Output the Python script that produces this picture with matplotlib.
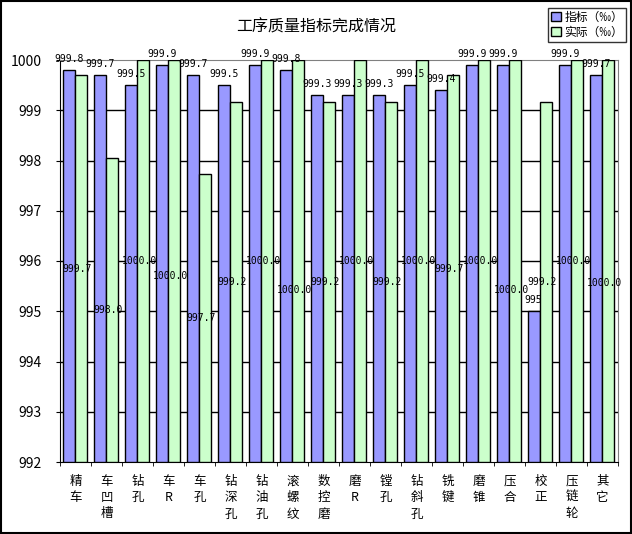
import numpy as np
import matplotlib
matplotlib.use("Agg")
import matplotlib.pyplot as plt
from matplotlib.patches import Rectangle, Patch

plt.rcParams['font.family'] = ['Noto Sans CJK SC', 'DejaVu Sans']

# data
categories = ['精车', '车凹槽', '钻孔', '车R', '车孔', '钻深孔', '钻油孔', '滚螺纹', '数控磨',
              '磨R', '镗孔', '钻斜孔', '铣键', '磨锥', '压合', '校正', '压链轮', '其它']
target = [999.8, 999.7, 999.5, 999.9, 999.7, 999.5, 999.9, 999.8, 999.3,
          999.3, 999.3, 999.5, 999.4, 999.9, 999.9, 995.0, 999.9, 999.7]
actual = [999.7, 998.04, 1000.0, 1000.0, 997.73, 999.16, 1000.0, 1000.0, 999.16,
          1000.0, 999.16, 1000.0, 999.7, 1000.0, 1000.0, 999.16, 1000.0, 1000.0]
target_labels = ['999.8', '999.7', '999.5', '999.9', '999.7', '999.5', '999.9', '999.8', '999.3',
                 '999.3', '999.3', '999.5', '999.4', '999.9', '999.9', '995', '999.9', '999.7']
series_names = ['指标（‰）', '实际（‰）']

blue = '#9999FF'
green = '#CCFFCC'
ymin, ymax = 992, 1000

# label nudges (points, downward) where the chart moved overlapping labels
nudge = {3: 11, 7: 21, 14: 21, 17: 16}

fig = plt.figure(figsize=(6.32, 5.34), dpi=100)
ax = fig.add_axes([60 / 632, 1 - 462 / 534, 558 / 632, 402 / 534])

x = np.arange(len(categories))
w = 0.385
shift = -0.03
ax.bar(x - w / 2 + shift, np.array(target) - ymin, w, bottom=ymin, color=blue,
       edgecolor='black', linewidth=1, zorder=3)
ax.bar(x + w / 2 + shift, np.array(actual) - ymin, w, bottom=ymin, color=green,
       edgecolor='black', linewidth=1, zorder=3)

mono = 'DejaVu Sans Mono'
for i in range(len(categories)):
    ax.annotate(target_labels[i], (x[i] - w / 2 + shift, target[i]), xytext=(0, 4.5),
                textcoords='offset points', ha='center', va='bottom',
                fontsize=7, family=mono, zorder=5, annotation_clip=False)
    mid = (ymin + actual[i]) / 2
    ax.annotate(f'{actual[i]:.1f}', (x[i] + 0.05, mid), xytext=(0, -nudge.get(i, 0)),
                textcoords='offset points', ha='center', va='center',
                fontsize=7, family=mono, zorder=5)

ax.set_xlim(-0.5, len(categories) - 0.5)
ax.set_ylim(ymin, ymax)
ax.set_yticks(range(ymin, ymax + 1))
ax.tick_params(axis='y', direction='out', length=3, pad=10, labelsize=10)
ax.set_xticks(x)
ax.set_xticklabels(['\n'.join(c) for c in categories], fontsize=9, linespacing=1.35, va='top')
ax.tick_params(axis='x', length=0, pad=9)
ax.set_xticks(np.arange(-0.5, len(categories)), minor=True)
ax.tick_params(axis='x', which='minor', direction='out', length=3)

for yv in range(ymin + 1, ymax):
    ax.axhline(yv, color='black', linewidth=1, zorder=1)
ax.spines['top'].set_color('#808080')
ax.spines['right'].set_color('#808080')
ax.spines['left'].set_color('black')
ax.spines['bottom'].set_color('black')

fig.text(316 / 632, 1 - 27 / 534, '工序质量指标完成情况', ha='center', va='center', fontsize=11.5)

handles = [Patch(facecolor=blue, edgecolor='black'), Patch(facecolor=green, edgecolor='black')]
leg = fig.legend(handles, series_names, loc='upper right', bbox_to_anchor=(626 / 632, 1 - 8 / 534),
                 fontsize=8.5, frameon=True, fancybox=False, handlelength=0.8, handleheight=0.8,
                 handletextpad=0.3, borderpad=0.25, labelspacing=0.15, borderaxespad=0)
leg.get_frame().set_edgecolor('black')
leg.get_frame().set_linewidth(1)

fig.patches.append(Rectangle((0.001, 0.001), 0.997, 0.997, transform=fig.transFigure,
                             fill=False, edgecolor='black', linewidth=1.5))

fig.savefig('out.png', dpi=100)
